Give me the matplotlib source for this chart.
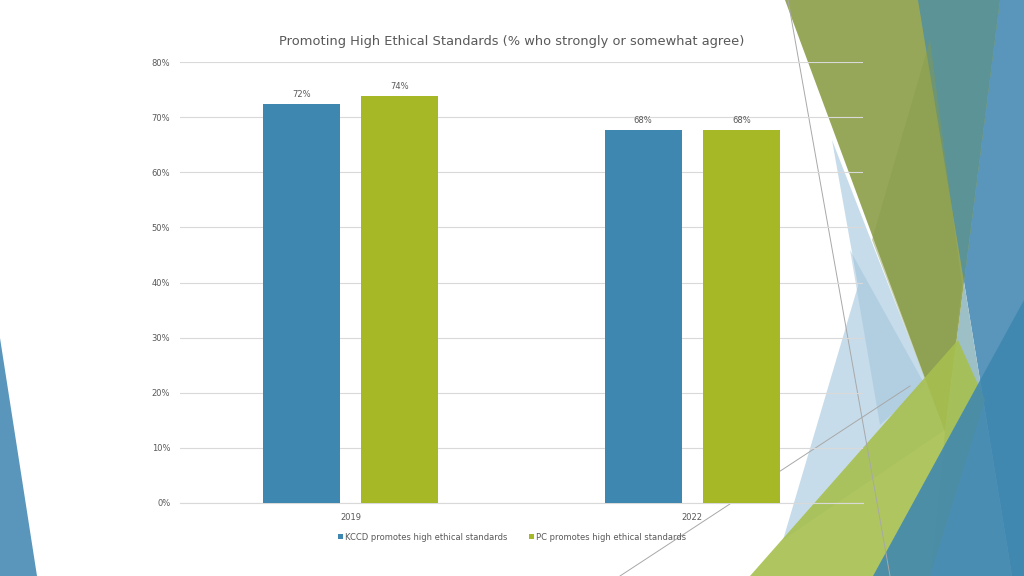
import matplotlib
matplotlib.use("Agg")
import matplotlib.pyplot as plt
from matplotlib.patches import Polygon
from matplotlib.lines import Line2D
import numpy as np

categories = ["2019", "2022"]
series_names = ["KCCD promotes high ethical standards", "PC promotes high ethical standards"]
kccd = [72.3, 67.6]
pc = [73.9, 67.6]
labels_kccd = ["72%", "68%"]
labels_pc = ["74%", "68%"]
yticks = [0, 10, 20, 30, 40, 50, 60, 70, 80]

W, H = 1024, 576
fig = plt.figure(figsize=(W/100, H/100), dpi=100)
fig.patch.set_facecolor("white")

def px(pts):
    return [(x / W, 1 - y / H) for x, y in pts]

shapes = [
    ([(832, 140), (945, 430), (783, 540), (858, 286)], "#c6dcea", 1.0),
    ([(850, 250), (925, 385), (880, 425)], "#9fc3dc", 0.5),
    ([(918, 0), (1024, 0), (1024, 576), (1012, 576)], "#5a96bb", 1.0),
    ([(964, 282), (1012, 576), (930, 576), (945, 432)], "#9dbfc6", 1.0),
    ([(785, 0), (1000, 0), (945, 432)], "#97a75a", 1.0),
    ([(918, 0), (1000, 0), (964, 282)], "#5b9396", 1.0),
    ([(930, 40), (962, 285), (945, 432), (872, 240)], "#869a4c", 0.45),
    ([(750, 576), (958, 340), (985, 400), (930, 576)], "#a7c04f", 0.9),
    ([(873, 576), (1024, 300), (1024, 576)], "#3e87b0", 0.88),
    ([(0, 338), (37, 576), (0, 576)], "#5a96bb", 1.0),
]
for pts, c, a in shapes:
    fig.patches.append(Polygon(px(pts), closed=True, facecolor=c, edgecolor="none",
                               alpha=a, transform=fig.transFigure, zorder=-5))
for (x0, y0), (x1, y1) in [((788, 0), (890, 576)), ((620, 576), (910, 386))]:
    fig.lines.append(Line2D([x0/W, x1/W], [1-y0/H, 1-y1/H], color="#a8a8a8", lw=0.7,
                            transform=fig.transFigure, zorder=-4))

ax = fig.add_axes([180/W, 1-503/H, (863-180)/W, (503-62)/H])
ax.patch.set_alpha(0)
x = np.arange(len(categories))
bw = 0.2255
off = 0.1435
b1 = ax.bar(x - off, kccd, bw, color="#3e87b0", zorder=3, label=series_names[0])
b2 = ax.bar(x + off, pc, bw, color="#a6b826", zorder=3, label=series_names[1])
for bars, labs in [(b1, labels_kccd), (b2, labels_pc)]:
    for b, l in zip(bars, labs):
        ax.text(b.get_x() + b.get_width()/2, b.get_height() + 0.9, l, ha="center", va="bottom",
                fontsize=6, color="#595959")
ax.set_xlim(-0.5, 1.5)
ax.set_ylim(0, 80)
ax.set_yticks(yticks)
ax.set_yticklabels([f"{t}%" for t in yticks])
ax.set_xticks(x)
ax.set_xticklabels(categories)
ax.yaxis.grid(True, color="#d9d9d9", lw=0.8, zorder=0)
for s in ["top", "right", "left"]:
    ax.spines[s].set_visible(False)
ax.spines["bottom"].set_color("#d9d9d9")
ax.tick_params(axis="both", length=0, labelsize=6, colors="#595959")
ax.tick_params(axis="y", pad=7)
ax.tick_params(axis="x", pad=7)
fig.text(512/W, 1-41/H, "Promoting High Ethical Standards (% who strongly or somewhat agree)",
         ha="center", va="center", fontsize=9.4, color="#595959")
leg = fig.legend(handles=[b1, b2], loc="center", bbox_to_anchor=(512/W, 1-537/H), ncol=2,
                 frameon=False, fontsize=6, handlelength=0.6, handleheight=0.6,
                 handletextpad=0.3, columnspacing=2.5)
for t in leg.get_texts():
    t.set_color("#595959")
fig.savefig("out.png", dpi=100)
